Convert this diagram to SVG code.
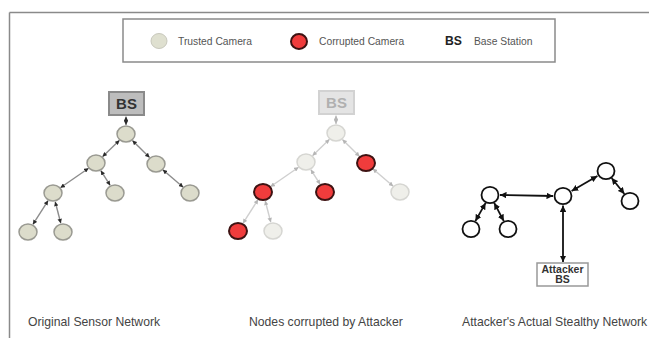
<svg xmlns="http://www.w3.org/2000/svg" width="649" height="338" viewBox="0 0 649 338">
  <defs>
    <style>
      text { font-family: "Liberation Sans", Arial, sans-serif; }
      .frame { fill: none; stroke: #8a8a8a; stroke-width: 1.5; }
      .legend-text { font-size: 10.3px; fill: #555; }
      .caption { font-size: 12.2px; fill: #444; }
      .trusted { fill: #dcdccb; stroke: #9a9a92; stroke-width: 1.5; }
      .trusted-faded { fill: #efefea; stroke: #d6d6d2; stroke-width: 1.5; }
      .corrupted { fill: #f03c3c; stroke: #3e1212; stroke-width: 2; }
      .stealth { fill: #fff; stroke: #111; stroke-width: 1.8; }
      .edge-orig { stroke: #8c8c8c; stroke-width: 1.4; marker-start: url(#tipDark); marker-end: url(#tipDark); }
      .edge-faded { stroke: #cfcfcf; stroke-width: 1.4; marker-start: url(#tipLight); marker-end: url(#tipLight); }
      .edge-stealth { stroke: #111; stroke-width: 1.8; marker-start: url(#tipBlack); marker-end: url(#tipBlack); }
      .bs-box { fill: #bdbdbd; stroke: #8a8a8a; stroke-width: 2; }
      .bs-box-faded { fill: #e4e4e4; stroke: #d2d2d2; stroke-width: 2; }
      .bs-label { font-size: 15px; font-weight: bold; text-anchor: middle; }
    </style>
    <marker id="tipDark" viewBox="0 0 6 6" refX="6" refY="3" markerWidth="4.5" markerHeight="4.5" markerUnits="userSpaceOnUse" orient="auto-start-reverse">
      <path d="M0,0 L6,3 L0,6 z" fill="#2a2a2a"/>
    </marker>
    <marker id="tipLight" viewBox="0 0 6 6" refX="6" refY="3" markerWidth="4.5" markerHeight="4.5" markerUnits="userSpaceOnUse" orient="auto-start-reverse">
      <path d="M0,0 L6,3 L0,6 z" fill="#b5b5b5"/>
    </marker>
    <marker id="tipBlack" viewBox="0 0 6 6" refX="6" refY="3" markerWidth="6.5" markerHeight="6.5" markerUnits="userSpaceOnUse" orient="auto-start-reverse">
      <path d="M0,0 L6,3 L0,6 z" fill="#111"/>
    </marker>
  </defs>

  <rect width="649" height="338" fill="#fff"/>

  <!-- outer frame: top and left rules -->
  <path class="frame" d="M9.5,12.5 H649 M9.5,12.5 V338"/>

  <!-- legend -->
  <g id="legend">
    <rect class="frame" x="123" y="19" width="432" height="43"/>
    <ellipse cx="159" cy="41" rx="8" ry="7.5" fill="#dfe0d0" stroke="#c8c8bc" stroke-width="1"/>
    <text class="legend-text" x="178" y="44.5">Trusted Camera</text>
    <ellipse class="corrupted" cx="299" cy="41.5" rx="8" ry="7.5"/>
    <text class="legend-text" x="319" y="44.5">Corrupted Camera</text>
    <text x="445" y="45" font-size="12.2" font-weight="bold" fill="#222">BS</text>
    <text class="legend-text" x="474" y="44.5">Base Station</text>
  </g>

  <!-- connectors -->
  <g id="connectors">
    <!-- original sensor network -->
    <g id="edges-original" class="edge-orig">
      <line x1="126" y1="116.5" x2="126" y2="125"/>
      <line x1="119.5" y1="140.3" x2="102.5" y2="156.7"/>
      <line x1="132.4" y1="140.4" x2="149.6" y2="157.6"/>
      <line x1="88.6" y1="168.2" x2="60.4" y2="187.8"/>
      <line x1="100.8" y1="170.6" x2="110.2" y2="185.4"/>
      <line x1="162.8" y1="169.8" x2="183.2" y2="187.2"/>
      <line x1="48.1" y1="200.6" x2="32.9" y2="224.4"/>
      <line x1="55.2" y1="201.7" x2="60.8" y2="223.3"/>
    </g>
    <!-- corrupted network (same tree, shifted) -->
    <g id="edges-corrupted" class="edge-faded" transform="translate(210,-1)">
      <line x1="126" y1="116.5" x2="126" y2="125"/>
      <line x1="119.5" y1="140.3" x2="102.5" y2="156.7"/>
      <line x1="132.4" y1="140.4" x2="149.6" y2="157.6"/>
      <line x1="88.6" y1="168.2" x2="60.4" y2="187.8"/>
      <line x1="100.8" y1="170.6" x2="110.2" y2="185.4"/>
      <line x1="162.8" y1="169.8" x2="183.2" y2="187.2"/>
      <line x1="48.1" y1="200.6" x2="32.9" y2="224.4"/>
      <line x1="55.2" y1="201.7" x2="60.8" y2="223.3"/>
    </g>
    <!-- stealthy network -->
    <g id="edges-stealthy" class="edge-stealth">
      <line x1="500" y1="195" x2="553" y2="196"/>
      <line x1="571.6" y1="191" x2="597.4" y2="176"/>
      <line x1="611.6" y1="178" x2="624.4" y2="194"/>
      <line x1="485.6" y1="202.9" x2="475.4" y2="221.1"/>
      <line x1="494.2" y1="202.9" x2="503.8" y2="221.1"/>
      <line x1="563" y1="205.5" x2="563" y2="262"/>
    </g>
  </g>

  <!-- original sensor network -->
  <g id="bs-original">
    <rect class="bs-box" x="109" y="92" width="35" height="23"/>
    <text class="bs-label" x="126.5" y="108.5" fill="#333">BS</text>
  </g>
  <g id="o1"><ellipse class="trusted" cx="126" cy="134" rx="9" ry="8"/></g>
  <g id="o2"><ellipse class="trusted" cx="96" cy="163" rx="9" ry="8"/></g>
  <g id="o3"><ellipse class="trusted" cx="156" cy="164" rx="9" ry="8"/></g>
  <g id="o4"><ellipse class="trusted" cx="53" cy="193" rx="9" ry="8"/></g>
  <g id="o5"><ellipse class="trusted" cx="115" cy="193" rx="9" ry="8"/></g>
  <g id="o6"><ellipse class="trusted" cx="190" cy="193" rx="9" ry="8"/></g>
  <g id="o7"><ellipse class="trusted" cx="28" cy="232" rx="9" ry="8"/></g>
  <g id="o8"><ellipse class="trusted" cx="63" cy="232" rx="9" ry="8"/></g>

  <!-- nodes corrupted by attacker -->
  <g transform="translate(210,-1)">
    <g id="bs-corrupted">
      <rect class="bs-box-faded" x="109" y="92" width="35" height="23"/>
      <text class="bs-label" x="126.5" y="108.5" fill="#b0b0b0">BS</text>
    </g>
    <g id="c1"><ellipse class="trusted-faded" cx="126" cy="134" rx="9" ry="8"/></g>
    <g id="c2"><ellipse class="trusted-faded" cx="96" cy="163" rx="9" ry="8"/></g>
    <g id="c3"><ellipse class="corrupted" cx="156" cy="164" rx="9" ry="8"/></g>
    <g id="c4"><ellipse class="corrupted" cx="53" cy="193" rx="9" ry="8"/></g>
    <g id="c5"><ellipse class="corrupted" cx="115" cy="193" rx="9" ry="8"/></g>
    <g id="c6"><ellipse class="trusted-faded" cx="190" cy="193" rx="9" ry="8"/></g>
    <g id="c7"><ellipse class="corrupted" cx="28" cy="232" rx="9" ry="8"/></g>
    <g id="c8"><ellipse class="trusted-faded" cx="63" cy="232" rx="9" ry="8"/></g>
  </g>

  <!-- attacker's stealthy network -->
  <g id="s1"><ellipse class="stealth" cx="490" cy="195" rx="8.5" ry="8.2"/></g>
  <g id="s2"><ellipse class="stealth" cx="563" cy="196" rx="8.5" ry="8.2"/></g>
  <g id="s3"><ellipse class="stealth" cx="606" cy="171" rx="8.5" ry="8.2"/></g>
  <g id="s4"><ellipse class="stealth" cx="630" cy="201" rx="8.5" ry="8.2"/></g>
  <g id="s5"><ellipse class="stealth" cx="471" cy="229" rx="8.5" ry="8.2"/></g>
  <g id="s6"><ellipse class="stealth" cx="508" cy="229" rx="8.5" ry="8.2"/></g>
  <g id="bs-attacker">
    <rect x="537" y="263" width="51" height="23" fill="#fff" stroke="#999" stroke-width="1.5"/>
    <text x="562.5" y="272.5" font-size="10.5" font-weight="bold" text-anchor="middle" fill="#333">Attacker</text>
    <text x="562.5" y="283" font-size="10.5" font-weight="bold" text-anchor="middle" fill="#333">BS</text>
  </g>

  <!-- captions -->
  <text class="caption" x="28" y="326">Original Sensor Network</text>
  <text class="caption" x="249" y="326">Nodes corrupted by Attacker</text>
  <text class="caption" x="462" y="326">Attacker's Actual Stealthy Network</text>
</svg>
